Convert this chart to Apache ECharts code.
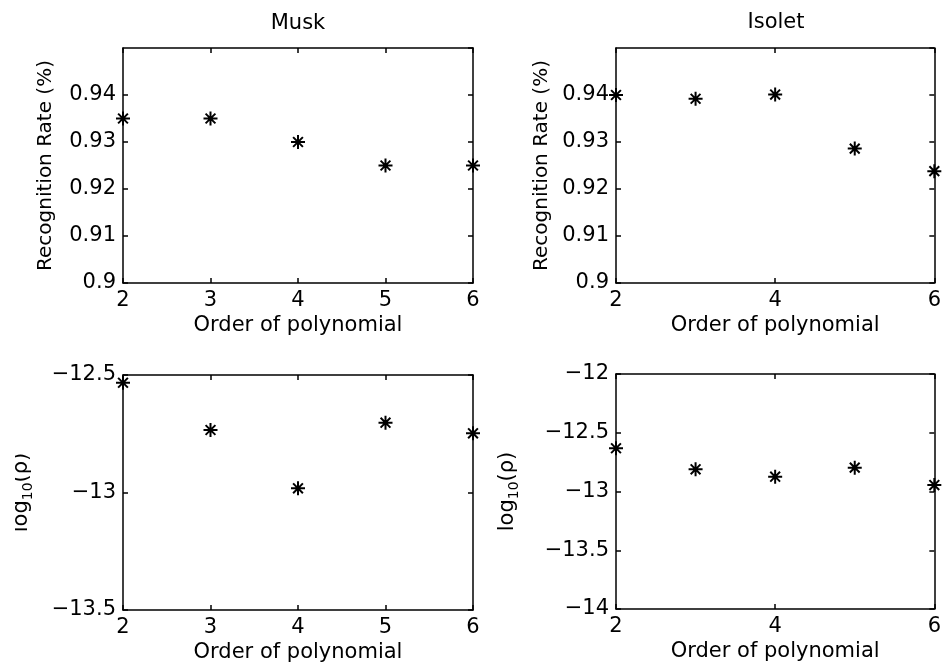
<!DOCTYPE html>
<html>
<head>
<meta charset="utf-8">
<script src="https://cdn.jsdelivr.net/npm/echarts@6/dist/echarts.min.js"></script>
<style>html,body{margin:0;padding:0;background:#fff;}#c{width:944px;height:667px;}</style>
</head>
<body>
<div id="c"></div>
<script>
// ---- data ----
var orders = [2, 3, 4, 5, 6];
var muskRate = [0.935, 0.935, 0.930, 0.925, 0.925];
var isoletRate = [0.9400, 0.9392, 0.9401, 0.9286, 0.9238];
var muskLogRho = [-12.533, -12.734, -12.982, -12.703, -12.748];
var isoletLogRho = [-12.632, -12.811, -12.874, -12.797, -12.945];
var titles = ['Musk', 'Isolet'];
var xName = 'Order of polynomial';
var rateName = 'Recognition Rate (%)';

var FONT = 'DejaVu Sans';
var FS = 21;
var star = 'path://M0,5L10,5M5,0L5,10M1.5,1.5L8.5,8.5M1.5,8.5L8.5,1.5';

var grids = [
  {left: 123, top: 48, width: 350, height: 235},
  {left: 616, top: 48, width: 320, height: 235},
  {left: 123, top: 375, width: 350, height: 235},
  {left: 616, top: 374, width: 320, height: 235}
];
var xInt = [1, 2, 1, 2];
var yCfg = [
  {min: 0.9, max: 0.95, interval: 0.01, name: rateName, gap: 67},
  {min: 0.9, max: 0.95, interval: 0.01, name: rateName, gap: 64},
  {min: -13.5, max: -12.5, interval: 0.5, name: 'log{sub|10}(ρ)', gap: 88},
  {min: -14, max: -12, interval: 0.5, name: 'log{sub|10}(ρ)', gap: 95}
];
var seriesData = [muskRate, isoletRate, muskLogRho, isoletLogRho];

function fmtY(v) {
  var s = String(Math.round(v * 1000) / 1000);
  return s.replace('-', '\u2212');
}

var xAxes = [], yAxes = [], series = [];
for (var i = 0; i < 4; i++) {
  var lineStyle = {color: '#000', width: 1.5};
  xAxes.push({
    type: 'value', gridIndex: i, min: 2, max: 6, interval: xInt[i], position: 'bottom',
    name: xName, nameLocation: 'middle', nameGap: 32,
    nameTextStyle: {fontFamily: FONT, fontSize: FS, color: '#000'},
    axisLine: {show: true, lineStyle: lineStyle},
    axisTick: {show: true, inside: true, length: 5, lineStyle: lineStyle},
    axisLabel: {fontFamily: FONT, fontSize: FS, color: '#000', margin: 7},
    splitLine: {show: false}
  });
  xAxes.push({
    type: 'value', gridIndex: i, min: 2, max: 6, interval: xInt[i], position: 'top',
    axisLine: {show: true, lineStyle: lineStyle},
    axisTick: {show: true, inside: true, length: 5, lineStyle: lineStyle},
    axisLabel: {show: false}, splitLine: {show: false}
  });
  var yc = yCfg[i];
  yAxes.push({
    type: 'value', gridIndex: i, min: yc.min, max: yc.max, interval: yc.interval, position: 'left',
    name: yc.name, nameLocation: 'middle', nameGap: yc.gap, nameRotate: 90,
    nameTextStyle: {fontFamily: FONT, fontSize: i < 2 ? 20 : FS, color: '#000',
      rich: {sub: {fontFamily: FONT, fontSize: 14, color: '#000', verticalAlign: 'bottom', lineHeight: 26}}},
    axisLine: {show: true, lineStyle: lineStyle},
    axisTick: {show: true, inside: true, length: 5, lineStyle: lineStyle},
    axisLabel: {fontFamily: FONT, fontSize: FS, color: '#000', margin: 7, showMaxLabel: i >= 2, formatter: fmtY},
    splitLine: {show: false}
  });
  yAxes.push({
    type: 'value', gridIndex: i, min: yc.min, max: yc.max, interval: yc.interval, position: 'right',
    axisLine: {show: true, lineStyle: lineStyle},
    axisTick: {show: true, inside: true, length: 5, lineStyle: lineStyle},
    axisLabel: {show: false}, splitLine: {show: false}
  });
  var pts = orders.map(function (o, k) { return [o, seriesData[i][k]]; });
  series.push({
    type: 'scatter', xAxisIndex: 2 * i, yAxisIndex: 2 * i, data: pts, clip: false,
    symbol: star, symbolSize: 14,
    itemStyle: {color: 'none', borderColor: '#000', borderWidth: 2, opacity: 1},
    silent: true
  });
}

var chart = echarts.init(document.getElementById('c'), null, {renderer: 'canvas'});
chart.setOption({
  backgroundColor: '#fff',
  animation: false,
  grid: grids,
  xAxis: xAxes,
  yAxis: yAxes,
  series: series,
  graphic: [
    {type: 'text', x: 298, y: 24, style: {text: titles[0], align: 'center', verticalAlign: 'middle', font: FS + 'px "' + FONT + '"', fill: '#000'}},
    {type: 'text', x: 776, y: 23, style: {text: titles[1], align: 'center', verticalAlign: 'middle', font: FS + 'px "' + FONT + '"', fill: '#000'}},
    {type: 'rect', shape: {x: 0, y: 430, width: 15, height: 140}, style: {fill: '#fff'}, z: 100}
  ]
});
</script>
</body>
</html>
